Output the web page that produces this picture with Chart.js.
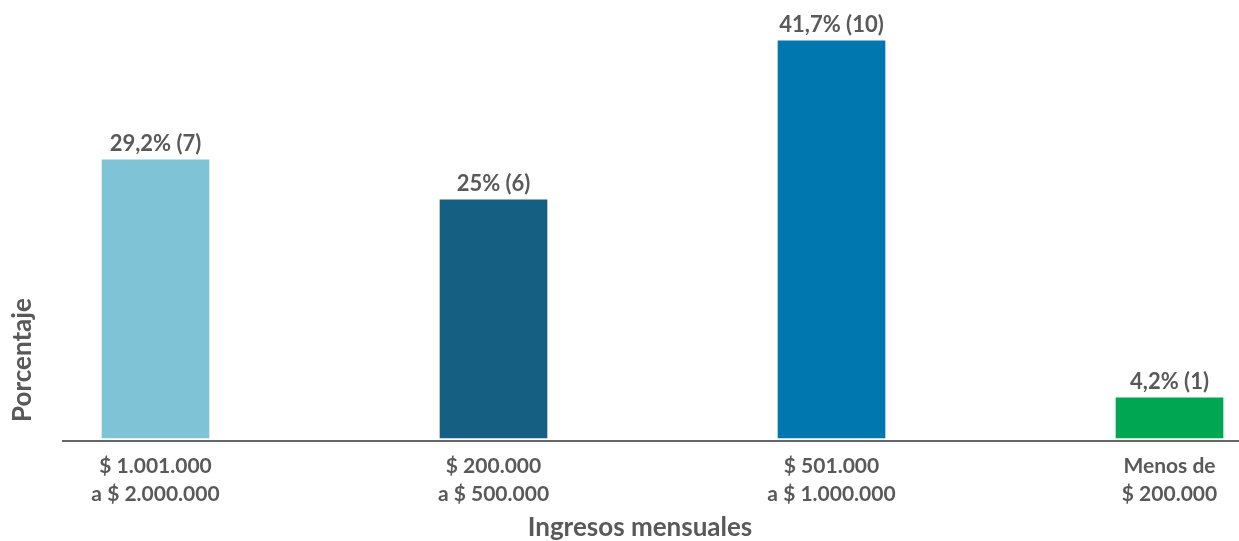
<!DOCTYPE html>
<html>
<head>
<meta charset="utf-8">
<script src="https://cdn.jsdelivr.net/npm/chart.js@4.4.1/dist/chart.umd.min.js"></script>
<style>
  html, body { margin: 0; padding: 0; background: #ffffff; }
  #wrap { width: 1239px; height: 541px; position: relative; }
</style>
</head>
<body>
<div id="wrap"><canvas id="chart"></canvas></div>
<script>
// Monthly income brackets and their share of respondents
const categories = [
  ['$ 1.001.000', 'a $ 2.000.000'],
  ['$ 200.000', 'a $ 500.000'],
  ['$ 501.000', 'a $ 1.000.000'],
  ['Menos de', '$ 200.000']
];
const percentages = [29.2, 25, 41.7, 4.2];
const counts = [7, 6, 10, 1];
const barColors = ['#7fc4d6', '#155f82', '#0078af', '#00a651'];
const xTitleText = 'Ingresos mensuales';
const yTitleText = 'Porcentaje';

const FONT = "Lato, 'Open Sans', sans-serif";
const TEXT = '#595959';

function pctLabel(v) {
  return String(v).replace('.', ',') + '%';
}

// Value labels drawn above each bar
const valueLabels = {
  id: 'valueLabels',
  afterDatasetsDraw(chart) {
    const ctx = chart.ctx;
    const meta = chart.getDatasetMeta(0);
    ctx.save();
    ctx.font = '700 22px ' + FONT;
    ctx.fillStyle = TEXT;
    ctx.textAlign = 'center';
    ctx.textBaseline = 'alphabetic';
    meta.data.forEach((bar, i) => {
      ctx.fillText(pctLabel(percentages[i]) + ' (' + counts[i] + ')', bar.x, bar.y - 9);
    });
    ctx.restore();
  }
};

// Axis titles: horizontal one under the tick labels, vertical one near the lower end of the axis
const axisTitles = {
  id: 'axisTitles',
  afterDraw(chart) {
    const ctx = chart.ctx;
    const area = chart.chartArea;
    ctx.save();
    ctx.fillStyle = TEXT;
    ctx.textBaseline = 'alphabetic';

    ctx.font = '700 26px ' + FONT;
    ctx.textAlign = 'center';
    ctx.fillText(xTitleText, 640, chart.height - 5);

    ctx.font = '700 26px ' + FONT;
    ctx.translate(31, area.bottom - 19);
    ctx.rotate(-Math.PI / 2);
    ctx.textAlign = 'left';
    ctx.fillText(yTitleText, 0, 0);
    ctx.restore();
  }
};

new Chart(document.getElementById('chart'), {
  type: 'bar',
  data: {
    datasets: [{
      data: percentages.map((v, i) => ({ x: i, y: v })),
      backgroundColor: barColors,
      barThickness: 107,
      borderWidth: 0
    }]
  },
  options: {
    responsive: true,
    maintainAspectRatio: false,
    animation: false,
    layout: { padding: { top: 0, right: 0, bottom: 0, left: 0 } },
    plugins: {
      legend: { display: false },
      tooltip: { enabled: false }
    },
    scales: {
      x: {
        type: 'linear',
        offset: false,
        min: -0.2737,
        max: 3.2056,
        afterBuildTicks(scale) {
          scale.ticks = categories.map((c, i) => ({ value: i }));
        },
        afterFit(scale) { scale.height = 100; },
        grid: { display: false, drawTicks: false, offset: false },
        border: { display: true, color: '#666666', width: 2 },
        ticks: {
          autoSkip: false,
          maxRotation: 0,
          padding: 12,
          color: TEXT,
          font: { family: FONT, size: 21, weight: '700', lineHeight: 1.3 },
          callback: (v) => categories[v]
        },
        title: { display: false }
      },
      y: {
        min: -0.33,
        max: 46,
        afterFit(scale) { scale.width = 63; },
        grid: { display: false, drawTicks: false },
        border: { display: false },
        ticks: { display: false }
      }
    }
  },
  plugins: [valueLabels, axisTitles]
});
</script>
</body>
</html>
